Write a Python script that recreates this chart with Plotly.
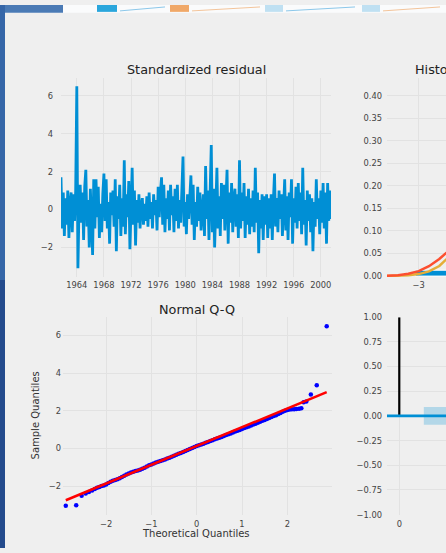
import plotly.graph_objects as go
import pandas as pd

# ---------------- data ----------------
resid_start = "1961-09-01"
resid_values = [
    1.7, -1.0, 0.9, -1.4, 0.6, -0.8,
    1.0, -1.5, 0.3, 0.9, -1.2, 0.8,
    -0.6, 1.0, 6.5, -3.1, 0.2, 1.3,
    -0.7, 0.9, -1.6, 1.2, 2.1, -0.9,
    0.5, -2.0, 1.1, -0.5, -2.4, 1.6,
    -1.0, 1.6, -0.4, 1.2, -1.5, 0.3,
    -1.2, 0.8, 1.9, -0.6, 1.6, -1.0,
    0.4, -1.8, 0.9, -0.3, 1.0, -0.9,
    1.6, -2.2, 0.7, -0.5, 1.3, -1.4,
    0.6, -0.9, 2.6, -1.3, 0.8, -0.4,
    1.5, -2.1, 0.9, 2.2, -0.8, 1.0,
    -1.9, 0.5, -0.7, 0.8, -1.0, 0.2,
    0.6, -0.8, 0.3, -0.6, 0.7, -0.9,
    0.9, -0.5, 0.4, -1.0, 0.8, -0.3,
    0.5, -1.1, 1.2, -0.4, 0.9, 1.7,
    -0.8, 1.3, -1.2, 0.6, -0.5, 1.0,
    -1.1, 1.3, -0.3, 0.7, -1.2, 1.1,
    -0.6, 1.3, -1.0, 0.5, -0.7, 1.2,
    2.8, -0.9, 0.4, -1.3, 0.8, -0.5,
    1.0, 1.8, -0.8, 1.3, -1.6, 0.4,
    -0.9, 1.2, -0.6, 0.9, -1.1, 0.3,
    0.8, -1.4, 2.3, -0.5, 1.0, -1.6,
    0.6, 3.4, -1.2, 1.1, -2.0, 0.8,
    2.2, -1.0, 0.7, -1.4, 1.4, -0.5,
    1.3, -1.1, 0.6, 2.1, -1.8, 0.9,
    -0.7, 1.4, -1.2, 0.5, 1.1, -0.9,
    0.8, -1.5, 2.6, -1.0, 0.9, -0.6,
    1.4, -1.5, 0.7, -0.8, 1.1, -1.3,
    0.6, -0.9, 1.0, -1.2, 2.2, -0.7,
    0.9, -2.3, 0.5, -1.0, 0.8, -1.6,
    0.7, -0.8, 0.8, -1.5, 0.6, -1.0,
    0.8, -1.6, 0.5, 1.9, -0.9, 0.6,
    -1.2, 1.0, -0.5, 0.8, -1.4, 0.4,
    1.6, -1.1, 0.7, -1.6, 0.9, -0.4,
    1.6, -1.8, 0.6, -0.7, 1.2, -1.0,
    1.4, -0.6, 0.9, -1.3, 2.2, -0.8,
    0.5, -1.9, 1.0, -0.6, 0.8, -1.2,
    0.6, -2.2, 0.4, -0.9, 1.6, -0.5,
    0.6, -1.3, 1.0, -0.7, 1.4, -1.0,
    0.9, -1.8, 1.4, -0.6, 1.0, -0.5,
]
resid_dates = pd.date_range(resid_start, periods=len(resid_values), freq="2MS")

hist_edges = [-3.1, -2.14, -1.18, -0.22, 0.74, 1.70, 2.66, 3.62, 4.58, 5.54, 6.5]
hist_density = [0.013, 0.10, 0.30, 0.37, 0.20, 0.045, 0.006, 0.0, 0.0, 0.002]

kde_x = [-3.92, -3.6, -3.3, -3.0, -2.7, -2.4, -2.1, -1.8, -1.5, -1.2, -0.9, -0.6, -0.3, 0.0,
         0.3, 0.6, 0.9, 1.2, 1.5, 1.8, 2.1, 2.4, 2.7, 3.0, 3.3, 3.6, 3.92]
kde_y = [0.001, 0.002, 0.005, 0.011, 0.022, 0.038, 0.058, 0.09, 0.14, 0.2, 0.27, 0.33, 0.37, 0.38,
         0.37, 0.33, 0.27, 0.2, 0.14, 0.09, 0.055, 0.03, 0.016, 0.008, 0.004, 0.002, 0.001]
norm_y = [0.0002, 0.0006, 0.0017, 0.0044, 0.0104, 0.0224, 0.044, 0.079, 0.1295, 0.1942, 0.2661,
          0.3332, 0.3814, 0.3989, 0.3814, 0.3332, 0.2661, 0.1942, 0.1295, 0.079, 0.044, 0.0224,
          0.0104, 0.0044, 0.0017, 0.0006, 0.0002]

qq_theoretical = [
    -2.89, -2.66, -2.54, -2.45, -2.38, -2.31, -2.25,
    -2.20, -2.15, -2.10, -2.05, -2.00, -1.95, -1.90, -1.85, -1.80, -1.75, -1.70, -1.65, -1.60,
    -1.55, -1.50, -1.45, -1.40, -1.35, -1.30, -1.25, -1.20, -1.15, -1.10, -1.05, -1.00, -0.95,
    -0.90, -0.85, -0.80, -0.75, -0.70, -0.65, -0.60, -0.55, -0.50, -0.45, -0.40, -0.35, -0.30,
    -0.25, -0.20, -0.15, -0.10, -0.05, 0.00,
    0.05, 0.10, 0.15, 0.20, 0.25, 0.30, 0.35, 0.40, 0.45, 0.50, 0.55, 0.60, 0.65, 0.70, 0.75,
    0.80, 0.85, 0.90, 0.95, 1.00, 1.05, 1.10, 1.15, 1.20, 1.25, 1.30, 1.35, 1.40, 1.45, 1.50,
    1.55, 1.60, 1.65, 1.70, 1.75, 1.80, 1.85, 1.90, 1.95, 2.00, 2.05, 2.10, 2.15, 2.20,
    2.26, 2.31, 2.36, 2.42, 2.52, 2.65, 2.87,
]
qq_sample = [
    -3.03, -3.00, -2.50, -2.38, -2.30, -2.22, -2.14,
    -2.08, -2.03, -1.99, -1.96, -1.90, -1.83, -1.76, -1.70, -1.66, -1.62, -1.57, -1.50, -1.44,
    -1.38, -1.32, -1.27, -1.23, -1.19, -1.16, -1.12, -1.07, -1.01, -0.95, -0.89, -0.84, -0.79,
    -0.74, -0.70, -0.66, -0.62, -0.58, -0.53, -0.48, -0.43, -0.38, -0.33, -0.28, -0.23, -0.18,
    -0.13, -0.08, -0.02, 0.03, 0.08, 0.13,
    0.17, 0.22, 0.26, 0.31, 0.35, 0.40, 0.44, 0.49, 0.53, 0.58, 0.62, 0.67, 0.72, 0.76, 0.80,
    0.85, 0.90, 0.95, 0.99, 1.04, 1.09, 1.13, 1.17, 1.22, 1.27, 1.32, 1.37, 1.42, 1.47, 1.52,
    1.57, 1.62, 1.67, 1.72, 1.77, 1.83, 1.89, 1.95, 2.01, 2.05, 2.07, 2.08, 2.09, 2.10,
    2.11, 2.14, 2.45, 2.50, 2.86, 3.35, 6.48,
]
qq_line_x = [-2.89, 2.87]
qq_line_y = [-2.74, 2.99]

acf_lags = [0, 1, 2, 3, 4, 5, 6, 7, 8, 9, 10]
acf_values = [1.0, -0.01, 0.02, -0.03, 0.04, 0.01, -0.02, 0.03, -0.01, 0.02, -0.04]
acf_conf = [0.09, 0.09, 0.091, 0.091, 0.092, 0.092, 0.092, 0.093, 0.093, 0.093]

# ---------------- styling helpers ----------------
W, H = 446, 553
BG = "#efefef"
GRID = "#e2e2e2"
C_BLUE = "#008fd5"
C_RED = "#fc4f30"
C_YEL = "#e5ae38"
FONT = "DejaVu Sans"
TICKFONT = dict(family=FONT, size=8.3, color="#444444")


def px(x):
    return x / W


def py(y):
    return 1 - y / H


fig = go.Figure()

# Standardized residual
fig.add_trace(go.Scatter(x=resid_dates, y=resid_values, mode="lines",
                         line=dict(color=C_BLUE, width=2.8), xaxis="x", yaxis="y"))

# Histogram + densities
centers = [(a + b) / 2 for a, b in zip(hist_edges[:-1], hist_edges[1:])]
widths = [b - a for a, b in zip(hist_edges[:-1], hist_edges[1:])]
fig.add_trace(go.Bar(x=centers, y=hist_density, width=widths,
                     marker=dict(color=C_BLUE, line=dict(color="#ffffff", width=1)),
                     xaxis="x2", yaxis="y2"))
fig.add_trace(go.Scatter(x=kde_x, y=norm_y, mode="lines", line=dict(color=C_YEL, width=2.5),
                         xaxis="x2", yaxis="y2"))
fig.add_trace(go.Scatter(x=kde_x, y=kde_y, mode="lines", line=dict(color=C_RED, width=2.5),
                         xaxis="x2", yaxis="y2"))

# Q-Q
fig.add_trace(go.Scatter(x=qq_theoretical, y=qq_sample, mode="markers",
                         marker=dict(color="#0000ff", size=4.5), cliponaxis=False,
                         xaxis="x3", yaxis="y3"))
fig.add_trace(go.Scatter(x=qq_line_x, y=qq_line_y, mode="lines",
                         line=dict(color="#ff0000", width=2.5), xaxis="x3", yaxis="y3"))

# Correlogram
band_x = acf_lags[1:] + acf_lags[1:][::-1]
band_y = acf_conf + [-c for c in acf_conf][::-1]
fig.add_trace(go.Scatter(x=band_x, y=band_y, fill="toself", fillcolor="rgba(0,143,213,0.25)",
                         line=dict(width=0), mode="lines", xaxis="x4", yaxis="y4"))
stem_x, stem_y = [], []
for lag, val in zip(acf_lags, acf_values):
    stem_x += [lag, lag, None]
    stem_y += [0, val, None]
fig.add_trace(go.Scatter(x=stem_x, y=stem_y, mode="lines", line=dict(color="#000000", width=2.2),
                         xaxis="x4", yaxis="y4"))

axis_common = dict(showgrid=True, gridcolor=GRID, gridwidth=1, zeroline=False, showline=False,
                   ticks="", tickfont=TICKFONT, fixedrange=True)

QQ_L = 63
fig.update_layout(
    width=W, height=H, margin=dict(l=0, r=0, t=0, b=0),
    paper_bgcolor=BG, plot_bgcolor=BG, showlegend=False,
    xaxis=dict(axis_common, domain=[px(61), px(331)], anchor="y", type="date",
               range=[resid_dates[0], resid_dates[-1]], tick0="1964-01-01", dtick="M48",
               tickformat="%Y", ticklabelstandoff=2),
    yaxis=dict(axis_common, domain=[py(277), py(74)], anchor="x", range=[-3.56, 6.96],
               tickvals=[-2, 0, 2, 4, 6], ticklabelstandoff=7),
    xaxis2=dict(axis_common, domain=[px(387), 1], anchor="y2", range=[-3.92, -3.92 + 59 / 34.4],
                tick0=0, dtick=1, ticklabelstandoff=2),
    yaxis2=dict(axis_common, domain=[py(277), py(74)], anchor="x2", range=[-0.002, 0.44],
                tick0=0, dtick=0.05, tickformat=".2f", ticklabelstandoff=4),
    xaxis3=dict(axis_common, domain=[px(QQ_L), px(332)], anchor="y3",
                range=[(QQ_L - 196.7) / 45.3, (332 - 196.7) / 45.3], tickvals=[-2, -1, 0, 1, 2],
                ticklabelstandoff=3),
    yaxis3=dict(axis_common, domain=[py(519), py(318)], anchor="x3", range=[-3.5, 6.96],
                tickvals=[-2, 0, 2, 4, 6], ticklabelstandoff=1),
    xaxis4=dict(axis_common, domain=[px(387), 1], anchor="y4", range=[-0.5, -0.5 + 59 / 24.55],
                tick0=0, dtick=2, ticklabelstandoff=3),
    yaxis4=dict(axis_common, domain=[py(519), py(318)], anchor="x4", range=[-1, 1],
                tick0=0, dtick=0.25, tickformat=".2f", ticklabelstandoff=4),
)

title_font = dict(family=FONT, size=12.8, color="#222222")
label_font = dict(family=FONT, size=10, color="#333333")
fig.add_annotation(text="Standardized residual", x=px(196), y=py(66), xref="paper", yref="paper",
                   xanchor="center", yanchor="middle", showarrow=False, font=title_font)
fig.add_annotation(text="Histogram plus estimated density", x=px(413), y=py(66), xref="paper",
                   yref="paper", xanchor="left", yanchor="middle", showarrow=False, font=title_font)
fig.add_annotation(text="Normal Q-Q", x=px(196.7), y=py(310), xref="paper", yref="paper",
                   xanchor="center", yanchor="middle", showarrow=False, font=title_font)
fig.add_annotation(text="Theoretical Quantiles", x=px(196), y=py(538), xref="paper", yref="paper",
                   xanchor="center", yanchor="middle", showarrow=False, font=label_font)
fig.add_annotation(text="Sample Quantiles", x=px(35), y=py(418), xref="paper", yref="paper",
                   xanchor="center", yanchor="middle", textangle=-90, showarrow=False,
                   font=label_font)

# 0-line of the correlogram
fig.add_shape(type="line", xref="x4 domain", yref="y4", x0=0, x1=1, y0=0, y1=0,
              line=dict(color=C_BLUE, width=2.8))

# surrounding frame from the photographed screen
shapes = [
    dict(x0=0, x1=W, y0=0, y1=8, color="#fafbfc"),
    dict(x0=0, x1=63, y0=0, y1=8, color="#4a7ab5"),
    dict(x0=0, x1=5, y0=0, y1=280, color="#3566a8"),
    dict(x0=0, x1=5, y0=280, y1=H, color="#234a8c"),
    dict(x0=97, x1=117, y0=0, y1=7, color="#2aa6dc"),
    dict(x0=170, x1=189, y0=0, y1=7, color="#f0a868"),
    dict(x0=265, x1=283, y0=0, y1=7, color="#bfe0f2"),
    dict(x0=362, x1=380, y0=0, y1=7, color="#bfe0f2"),
]
for s in shapes:
    fig.add_shape(type="rect", xref="paper", yref="paper", x0=px(s["x0"]), x1=px(s["x1"]),
                  y0=py(s["y1"]), y1=py(s["y0"]), fillcolor=s["color"], line=dict(width=0),
                  layer="above")
for x0, x1, col in [(120, 165, "#8cc8ea"), (192, 260, "#f3c49a"), (286, 355, "#8cc8ea"),
                    (383, 440, "#f3c49a")]:
    fig.add_shape(type="line", xref="paper", yref="paper", x0=px(x0), x1=px(x1), y0=py(6),
                  y1=py(2), line=dict(color=col, width=1), layer="above")

fig.write_html("out.html")
